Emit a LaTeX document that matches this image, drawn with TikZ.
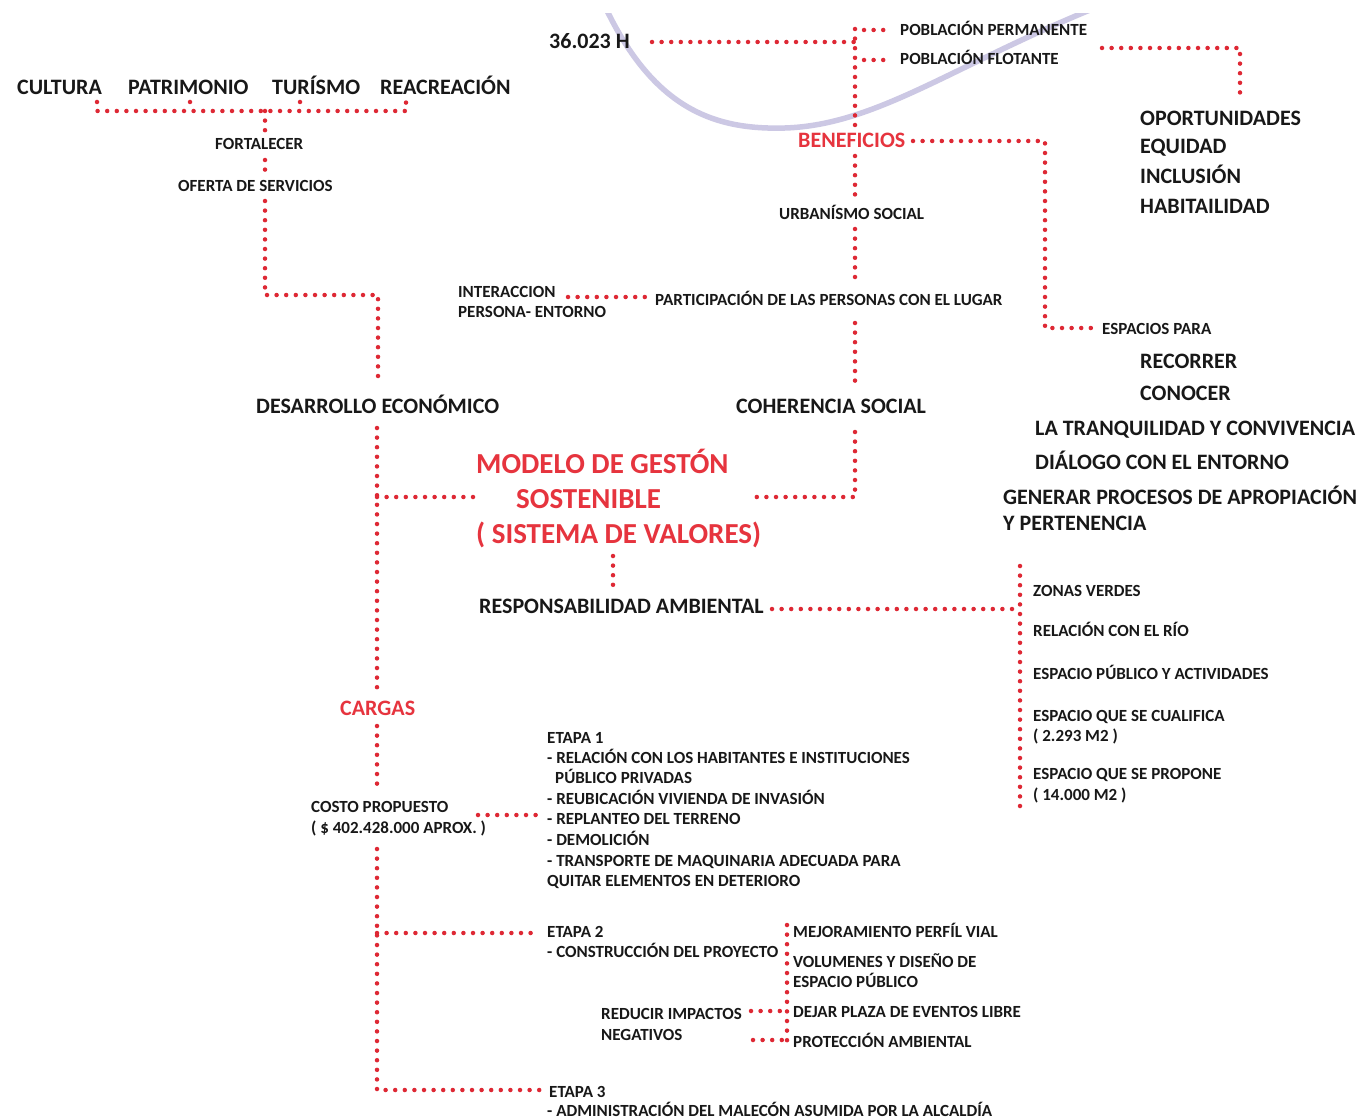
\documentclass[tikz,border=0pt]{standalone}
\usepackage{fontspec}
\setmainfont{Carlito}
\definecolor{dotred}{RGB}{222,40,52}
\definecolor{redtxt}{RGB}{230,52,62}
\definecolor{ink}{RGB}{24,24,24}
\definecolor{lilac}{RGB}{204,200,228}
\tikzset{
  dots/.style={draw=dotred, line width=4.5pt, line cap=round, dash pattern=on 0pt off 9.6pt},
  txt/.style={anchor=base west, inner sep=0pt, text=ink},
  big/.style={txt, font=\fontsize{22}{24}\selectfont\bfseries},
  mid/.style={txt, font=\fontsize{22}{24}\selectfont\bfseries},
  sml/.style={txt, font=\fontsize{17}{18}\selectfont\bfseries},
  redmid/.style={txt, text=redtxt, font=\fontsize{22}{24}\selectfont\bfseries},
  redbig/.style={txt, text=redtxt, font=\fontsize{29}{30}\selectfont\bfseries},
}
\begin{document}
\begin{tikzpicture}[x=1pt,y=-1pt]
\useasboundingbox[fill=white] (0,0) rectangle (1360,1118);
% river curve
\begin{scope}
\clip (0,14) rectangle (1360,1118);
\draw[lilac, line width=5.5pt] (602,0) .. controls (652,110) and (715,130) .. (785,128) .. controls (880,125) and (960,60) .. (1115,0);
\end{scope}

% ---- top left group
\node[big] (cultura) at (17,95) {CULTURA};
\node[big] (patrimonio) at (128,95) {PATRIMONIO};
\node[big] (turismo) at (272,95) {TURÍSMO};
\node[big] (reacreacion) at (380,95) {REACREACIÓN};
\node[sml] (fortalecer) at (215,150) {FORTALECER};
\node[sml] (oferta) at (178,192) {OFERTA DE SERVICIOS};
\node[big] (desarrollo) at (256,413) {DESARROLLO ECONÓMICO};

\coordinate (c1) at (97,111);
\coordinate (c4) at (406,111);
\coordinate (cf) at (265,111);
\draw[dots] (97,102) -- (c1) -- (c4) -- (406,102);
\draw[dots] (190,102) -- (190,111);
\draw[dots] (300,102) -- (300,111);
\draw[dots] (cf) -- (265,134);
\draw[dots] (265,160) -- (265,174);
\coordinate (o1) at (265,201);
\coordinate (o2) at (265,295);
\coordinate (o3) at (378,295);
\coordinate (o4) at (378,381);
\draw[dots] (o1) -- (o2) -- (o3) -- (o4);

% ---- top middle
\node[big] (h) at (549,49) {36.023 H};
\node[sml] (perm) at (900,36) {POBLACIÓN PERMANENTE};
\node[sml] (flot) at (900,65) {POBLACIÓN FLOTANTE};
\node[redmid] (benef) at (798,148) {BENEFICIOS};
\coordinate (v0) at (855,29);
\coordinate (vb) at (855,126);
\draw[dots] (652,42) -- (855,42);
\draw[dots] (v0) -- (vb);
\draw[dots] (864,30) -- (890,30);
\draw[dots] (864,60) -- (886,60);
\coordinate (f1) at (1102,48);
\coordinate (f2) at (1240,48);
\coordinate (f3) at (1240,100);
\draw[dots] (f1) -- (f2) -- (f3);

\node[mid] (oport) at (1140,126) {OPORTUNIDADES};
\node[mid] (equidad) at (1140,154) {EQUIDAD};
\node[mid] (inclusion) at (1140,184) {INCLUSIÓN};
\node[mid] (habit) at (1140,214) {HABITAILIDAD};

\coordinate (b1) at (913,141);
\coordinate (b2) at (1045,141);
\coordinate (b3) at (1045,328);
\coordinate (b4) at (1094,328);
\draw[dots] (b1) -- (b2) -- (b3) -- (b4);
\node[sml] (espacios) at (1102,334) {ESPACIOS PARA};
\node[big] (recorrer) at (1140,368) {RECORRER};
\node[big] (conocer) at (1140,400) {CONOCER};
\node[big] (tranq) at (1035,435) {LA TRANQUILIDAD Y CONVIVENCIA};
\node[big] (dialogo) at (1035,469) {DIÁLOGO CON EL ENTORNO};
\node[big] (generar) at (1003,504) {GENERAR PROCESOS DE APROPIACIÓN};
\node[big] (perten) at (1003,530) {Y PERTENENCIA};

\node[sml] (urban) at (779,220) {URBANÍSMO SOCIAL};
\draw[dots] (855,156) -- (855,200);
\draw[dots] (855,229) -- (855,282);
\node[sml] (partic) at (655,305) {PARTICIPACIÓN DE LAS PERSONAS CON EL LUGAR};
\node[sml] (inter1) at (458,297) {INTERACCION};
\node[sml] (inter2) at (458,317) {PERSONA- ENTORNO};
\draw[dots] (568,297) -- (650,297);
\draw[dots] (855,323) -- (855,385);
\node[big] (coher) at (736,413) {COHERENCIA SOCIAL};
\coordinate (s1) at (855,432);
\coordinate (s2) at (855,497);
\coordinate (s3) at (748,497);
\draw[dots] (s1) -- (s2) -- (s3);

% ---- centre
\node[redbig] (mod1) at (476,473) {MODELO DE GESTÓN};
\node[redbig] (mod2) at (516,508) {SOSTENIBLE};
\node[redbig] (mod3) at (476,543) {( SISTEMA DE VALORES)};
\draw[dots] (613,556) -- (613,588);
\node[big] (resp) at (479,613) {RESPONSABILIDAD AMBIENTAL};
\draw[dots] (772,609) -- (1020,609);
\draw[dots] (1020,566) -- (1020,812);
\node[sml] (zonas) at (1033,596) {ZONAS VERDES};
\node[sml] (rio) at (1033,636) {RELACIÓN CON EL RÍO};
\node[sml] (epub) at (1033,679) {ESPACIO PÚBLICO Y ACTIVIDADES};
\node[sml] (ecual) at (1033,721) {ESPACIO QUE SE CUALIFICA};
\node[sml] (ecual2) at (1033,741) {( 2.293 M2 )};
\node[sml] (eprop) at (1033,779) {ESPACIO QUE SE PROPONE};
\node[sml] (eprop2) at (1033,800) {( 14.000 M2 )};

% ---- left column down
\coordinate (d1) at (377,428);
\coordinate (d2) at (377,690);
\draw[dots] (d1) -- (d2);
\draw[dots] (377,497) -- (475,497);
\node[redmid] (cargas) at (340,715) {CARGAS};
\draw[dots] (377,726) -- (377,790);
\node[sml] (costo1) at (311,812) {COSTO PROPUESTO};
\node[sml] (costo2) at (311,833) {( \$ 402.428.000 APROX. )};
\draw[dots] (478,815) -- (540,815);

\node[sml] (e1a) at (547,743) {ETAPA 1};
\node[sml] (e1b) at (547,763) {- RELACIÓN CON LOS HABITANTES E INSTITUCIONES};
\node[sml] (e1c) at (555,783) {PÚBLICO PRIVADAS};
\node[sml] (e1d) at (547,804) {- REUBICACIÓN VIVIENDA DE INVASIÓN};
\node[sml] (e1e) at (547,824) {- REPLANTEO DEL TERRENO};
\node[sml] (e1f) at (547,845) {- DEMOLICIÓN};
\node[sml] (e1g) at (547,866) {- TRANSPORTE DE MAQUINARIA ADECUADA PARA};
\node[sml] (e1h) at (547,886) {QUITAR ELEMENTOS EN DETERIORO};

\coordinate (k1) at (377,849);
\coordinate (k2) at (377,1090);
\coordinate (k3) at (540,1090);
\draw[dots] (k1) -- (k2) -- (k3);
\draw[dots] (377,933) -- (535,933);
\node[sml] (e2a) at (547,937) {ETAPA 2};
\node[sml] (e2b) at (547,957) {- CONSTRUCCIÓN DEL PROYECTO};
\draw[dots] (787,925) -- (787,1046);
\node[sml] (mej) at (793,937) {MEJORAMIENTO PERFÍL VIAL};
\node[sml] (vol1) at (793,967) {VOLUMENES Y DISEÑO DE};
\node[sml] (vol2) at (793,987) {ESPACIO PÚBLICO};
\node[sml] (dejar) at (793,1017) {DEJAR PLAZA DE EVENTOS LIBRE};
\node[sml] (prot) at (793,1047) {PROTECCIÓN AMBIENTAL};
\node[sml] (red1) at (601,1019) {REDUCIR IMPACTOS};
\node[sml] (red2) at (601,1040) {NEGATIVOS};
\draw[dots] (751,1011) -- (785,1011);
\draw[dots] (753,1040) -- (785,1040);
\node[sml] (e3a) at (549,1097) {ETAPA 3};
\node[sml] (e3b) at (547,1116) {- ADMINISTRACIÓN DEL MALECÓN ASUMIDA POR LA ALCALDÍA};
\end{tikzpicture}
\end{document}
